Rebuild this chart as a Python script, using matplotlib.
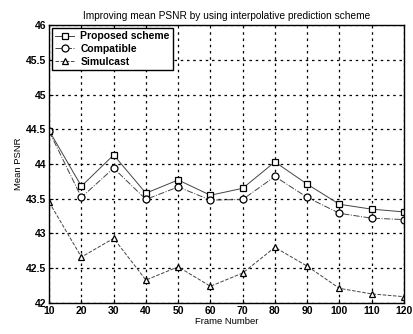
import matplotlib
matplotlib.use("Agg")
import matplotlib.pyplot as plt
from matplotlib.ticker import FuncFormatter

frames = [10, 20, 30, 40, 50, 60, 70, 80, 90, 100, 110, 120]
proposed = [44.48, 43.68, 44.13, 43.58, 43.77, 43.55, 43.65, 44.03, 43.71, 43.42, 43.35, 43.31]
compatible = [44.47, 43.52, 43.94, 43.49, 43.67, 43.48, 43.49, 43.82, 43.52, 43.29, 43.22, 43.20]
simulcast = [43.45, 42.66, 42.93, 42.33, 42.52, 42.24, 42.43, 42.80, 42.53, 42.21, 42.13, 42.09]
yticks = [42, 42.5, 43, 43.5, 44, 44.5, 45, 45.5, 46]

plt.rcParams['font.family'] = ['Liberation Sans', 'DejaVu Sans']
plt.rcParams['font.weight'] = 'bold'

fig = plt.figure(figsize=(4.13, 3.34), dpi=100)
ax = fig.add_axes([0.119, 0.093, 0.859, 0.832])

ax.plot(frames, proposed, linestyle='-', color='#444444', lw=0.7,
        marker='s', mfc='white', mec='black', ms=5, mew=0.9, label='Proposed scheme')
ax.plot(frames, compatible, linestyle='-.', color='#444444', lw=0.7,
        marker='o', mfc='white', mec='black', ms=5, mew=0.9, label='Compatible')
ax.plot(frames, simulcast, linestyle='--', color='#444444', lw=0.7,
        marker='^', mfc='white', mec='black', ms=5, mew=0.9, label='Simulcast')

ax.set_xlim(10, 120)
ax.set_ylim(42, 46)
ax.set_xticks(frames)
ax.set_yticks(yticks)
ax.yaxis.set_major_formatter(FuncFormatter(lambda v, p: f"{v:g}"))
ax.tick_params(direction='in', labelsize=7.5, length=3, width=0.8, pad=2)
ax.grid(True, linestyle=(0, (2, 3)), color='black', lw=0.9)
for s in ax.spines.values():
    s.set_linewidth(1.0)

ax.set_title('Improving mean PSNR by using interpolative prediction scheme',
             fontsize=7.3, pad=4, fontweight='normal')
ax.set_xlabel('Frame Number', fontsize=6.8, labelpad=1)
ax.set_ylabel('Mean PSNR', fontsize=6.8, labelpad=2)

leg = ax.legend(loc='upper left', fontsize=7.5, frameon=True, fancybox=False,
                edgecolor='black', framealpha=1, borderaxespad=0.25,
                handlelength=1.8, handletextpad=0.6, labelspacing=0.25, borderpad=0.35)
leg.get_frame().set_linewidth(1.0)

fig.savefig('out.png', dpi=100)
